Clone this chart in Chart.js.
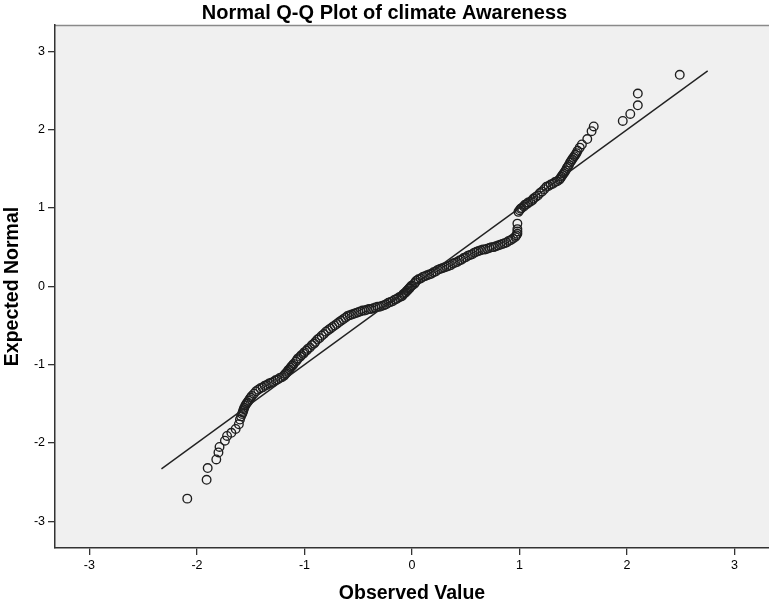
<!DOCTYPE html>
<html>
<head>
<meta charset="utf-8">
<script src="https://cdn.jsdelivr.net/npm/chart.js@4"></script>
<style>
html,body{margin:0;padding:0;background:#fff;}
#wrap{width:769px;height:605px;}
</style>
</head>
<body>
<div id="wrap"><canvas id="c" width="769" height="605"></canvas></div>
<script>
const chartTitle = "Normal Q-Q Plot of climate Awareness";
const xAxisTitle = "Observed Value";
const yAxisTitle = "Expected Normal";
const xTicks = [-3, -2, -1, 0, 1, 2, 3];
const yTicks = [-3, -2, -1, 0, 1, 2, 3];

const observed = [
 -2.09,-1.91,-1.90,-1.82,-1.80,-1.79,-1.74,-1.72,-1.68,-1.64,-1.61,-1.60,-1.59,
 -1.58,-1.575,-1.57,-1.565,-1.56,-1.55,-1.54,-1.53,-1.52,-1.51,-1.50,-1.49,-1.47,-1.45,-1.43,
 -1.41,-1.39,-1.37,-1.35,-1.33,-1.31,-1.29,-1.27,-1.25,-1.23,-1.21,-1.19,-1.18,-1.17,-1.16,
 -1.15,-1.14,-1.13,-1.12,-1.11,-1.10,
 -1.08,-1.07,-1.06,-1.04,-1.03,-1.01,-1.00,-0.98,-0.97,-0.95,-0.93,-0.91,-0.90,-0.88,-0.86,
 -0.84,-0.82,-0.80,-0.78,-0.76,-0.74,-0.72,-0.70,-0.68,-0.66,-0.64,-0.62,-0.60,-0.58,-0.56,
 -0.54,-0.52,-0.50,
 -0.48,-0.46,-0.44,-0.42,-0.40,-0.38,-0.36,-0.34,-0.32,-0.30,-0.28,-0.26,-0.24,-0.22,-0.20,
 -0.18,-0.16,-0.14,-0.12,-0.10,-0.09,-0.08,-0.07,-0.06,-0.05,-0.04,-0.03,-0.02,-0.01,0.00,
 0.02,0.03,0.04,0.06,0.08,
 0.10,0.12,0.14,0.16,0.18,0.20,0.22,0.24,0.26,0.28,0.30,0.32,0.34,0.36,0.38,
 0.40,0.42,0.44,0.46,0.48,0.50,0.52,0.54,0.56,0.58,0.60,0.62,0.64,0.66,0.68,
 0.70,0.72,0.74,0.76,0.78,0.80,0.82,0.84,0.86,0.88,0.90,0.92,0.94,0.96,
 0.97,0.98,0.98,0.98,0.98,
 0.99,1.00,1.01,1.02,1.04,1.05,1.07,1.08,1.10,1.12,1.13,1.15,1.17,1.19,1.21,
 1.23,1.25,1.27,1.29,1.31,1.33,1.35,1.37,1.38,1.39,1.40,1.41,1.42,1.43,1.44,
 1.45,1.46,1.47,1.48,1.49,1.50,1.51,1.52,1.53,1.54,1.56,1.58,
 1.63,1.67,1.69,1.96,2.03,2.10,2.10,2.49
];
// Expected normal values (y), same order
const expected = [
 -2.71,-2.47,-2.32,-2.21,-2.12,-2.05,-1.97,-1.91,-1.87,-1.82,-1.76,-1.70,-1.66,
 -1.63,-1.61,-1.59,-1.57,-1.55,-1.52,-1.50,-1.48,-1.46,-1.44,-1.42,-1.40,-1.37,-1.34,-1.32,
 -1.30,-1.29,-1.27,-1.26,-1.24,-1.23,-1.22,-1.20,-1.19,-1.17,-1.16,-1.14,-1.12,-1.11,-1.09,
 -1.07,-1.06,-1.04,-1.02,-1.01,-0.99,
 -0.96,-0.94,-0.92,-0.90,-0.88,-0.86,-0.84,-0.82,-0.80,-0.78,-0.75,-0.73,-0.71,-0.68,-0.66,
 -0.63,-0.61,-0.58,-0.56,-0.54,-0.52,-0.50,-0.48,-0.46,-0.44,-0.42,-0.40,-0.38,-0.37,-0.36,
 -0.35,-0.34,-0.33,
 -0.32,-0.31,-0.31,-0.30,-0.29,-0.29,-0.28,-0.27,-0.26,-0.26,-0.25,-0.24,-0.23,-0.21,-0.20,
 -0.19,-0.17,-0.16,-0.14,-0.13,-0.12,-0.10,-0.09,-0.08,-0.06,-0.05,-0.03,-0.02,0.00,0.01,
 0.03,0.05,0.07,0.09,0.10,
 0.12,0.13,0.14,0.15,0.16,0.18,0.19,0.21,0.22,0.23,0.24,0.25,0.26,0.27,0.29,
 0.30,0.31,0.33,0.34,0.36,0.37,0.39,0.40,0.41,0.43,0.44,0.45,0.46,0.47,0.47,
 0.48,0.49,0.50,0.50,0.51,0.52,0.53,0.54,0.55,0.56,0.58,0.59,0.61,0.63,
 0.65,0.67,0.70,0.73,0.80,
 0.95,0.97,0.99,1.00,1.02,1.04,1.05,1.07,1.08,1.10,1.12,1.14,1.16,1.19,1.21,
 1.24,1.27,1.28,1.30,1.31,1.33,1.34,1.36,1.38,1.40,1.42,1.44,1.46,1.48,1.51,
 1.53,1.55,1.58,1.60,1.62,1.64,1.66,1.68,1.70,1.73,1.77,1.81,
 1.88,1.98,2.04,2.11,2.20,2.31,2.46,2.70
];
// Reference line end points
const lineX = [-2.33, 2.75];
const lineY = [-2.33, 2.75];

const n = Math.min(observed.length, expected.length);
const pts = [];
for (let i = 0; i < n; i++) pts.push({x: observed[i], y: expected[i]});
const linePts = lineX.map((v, i) => ({x: v, y: lineY[i]}));

const bgPlugin = {
  id: 'bg',
  beforeDraw(chart) {
    const {ctx, chartArea: a} = chart;
    ctx.save();
    ctx.fillStyle = '#f0f0f0';
    ctx.fillRect(a.left, a.top, a.right - a.left, a.bottom - a.top);
    ctx.strokeStyle = '#8a8a8a';
    ctx.lineWidth = 1.5;
    ctx.beginPath();
    ctx.moveTo(a.left, a.top + 0.5);
    ctx.lineTo(a.right, a.top + 0.5);
    ctx.stroke();
    ctx.restore();
  }
};

const font = "'Liberation Sans', Arial, sans-serif";

new Chart(document.getElementById('c'), {
  type: 'scatter',
  data: {
    datasets: [
      {
        data: pts,
        pointStyle: 'circle',
        pointRadius: 4.3,
        pointBackgroundColor: 'rgba(0,0,0,0)',
        pointBorderColor: '#1e1e1e',
        pointBorderWidth: 1.35,
        showLine: false,
        order: 2
      },
      {
        type: 'line',
        data: linePts,
        borderColor: '#222',
        borderWidth: 1.4,
        pointRadius: 0,
        fill: false,
        order: 1
      }
    ]
  },
  options: {
    responsive: false,
    animation: false,
    events: [],
    layout: {autoPadding: false, padding: 0},
    plugins: {
      legend: {display: false},
      tooltip: {enabled: false},
      title: {
        display: true,
        text: chartTitle,
        color: '#000',
        font: {family: font, size: 20, weight: 'bold', lineHeight: 1.2},
        padding: {top: 1, bottom: 0}
      }
    },
    scales: {
      x: {
        type: 'linear',
        min: -3.32,
        max: 3.32,
        afterBuildTicks(s) { s.ticks = xTicks.map(v => ({value: v})); },
        afterFit(s) { s.height = 57; },
        ticks: {color: '#000', font: {family: font, size: 12.5}, padding: 3},
        grid: {drawOnChartArea: false, drawTicks: true, tickLength: 7, color: '#333', lineWidth: 1.3},
        border: {display: true, color: '#333', width: 1.5},
        title: {display: true, text: xAxisTitle, color: '#000',
                font: {family: font, size: 19.5, weight: 'bold', lineHeight: 1.2}, padding: {top: 0, bottom: 0}}
      },
      y: {
        type: 'linear',
        min: -3.34,
        max: 3.335,
        afterBuildTicks(s) { s.ticks = yTicks.map(v => ({value: v})); },
        afterFit(s) { s.width = 55; },
        ticks: {color: '#000', font: {family: font, size: 12.5}, padding: 3},
        grid: {drawOnChartArea: false, drawTicks: true, tickLength: 7, color: '#333', lineWidth: 1.3},
        border: {display: true, color: '#333', width: 1.5},
        title: {display: true, text: yAxisTitle, color: '#000',
                font: {family: font, size: 19.5, weight: 'bold', lineHeight: 1.2}, padding: {top: 1, bottom: 0}}
      }
    }
  },
  plugins: [bgPlugin]
});
</script>
</body>
</html>
